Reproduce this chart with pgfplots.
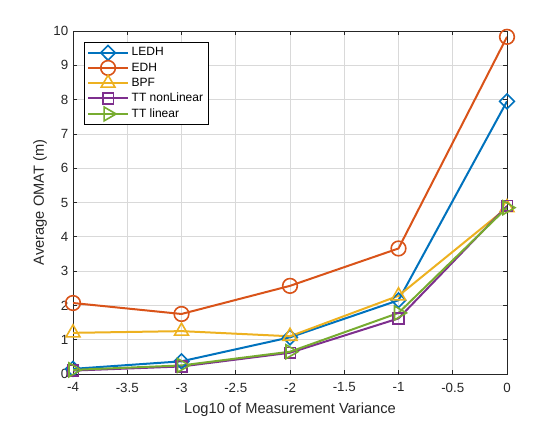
\documentclass[border=0pt]{standalone}
\usepackage{fontspec}
\setmainfont{Liberation Sans}
\usepackage{pgfplots}
\pgfplotsset{compat=1.18}
\definecolor{c1}{rgb}{0,0.447,0.741}
\definecolor{c2}{rgb}{0.85,0.325,0.098}
\definecolor{c3}{rgb}{0.929,0.694,0.125}
\definecolor{c4}{rgb}{0.494,0.184,0.556}
\definecolor{c5}{rgb}{0.466,0.674,0.188}
\definecolor{axgray}{rgb}{0.15,0.15,0.15}
\begin{document}
\begin{tikzpicture}
\path (0pt,0pt) rectangle (420pt,315pt);
\begin{axis}[
  at={(54.75pt,34.5pt)}, anchor=south west,
  scale only axis, width=325.5pt, height=257.25pt,
  xmin=-4, xmax=0, ymin=0, ymax=10,
  xtick={-4,-3.5,-3,-2.5,-2,-1.5,-1,-0.5,0},
  xticklabels={-4,-3.5,-3,-2.5,-2,-1.5,-1,-0.5,0},
  ytick={0,1,2,3,4,5,6,7,8,9,10},
  yticklabels={0,1,2,3,4,5,6,7,8,9,10},
  grid=major,
  grid style={black!15, line width=0.5pt},
  tick align=inside,
  major tick length=3.3pt,
  axis line style={axgray, line width=0.6pt},
  every tick/.style={axgray, line width=0.6pt},
  tick label style={font=\fontsize{10}{12}\selectfont, text=axgray},
  xticklabel style={yshift=-3pt},
  label style={font=\fontsize{11}{13}\selectfont, text=axgray},
  xlabel={Log10 of Measurement Variance},
  ylabel={Average OMAT (m)},
  xlabel style={yshift=-1pt},
  ylabel style={yshift=-2pt},
  legend cell align=left,
  legend style={at={(0,1)}, xshift=8.25pt, yshift=-8.25pt, anchor=north west,
    draw=black, line width=0.6pt, font=\fontsize{9}{11}\selectfont,
    row sep=-0.4pt, inner sep=2pt},
  legend image code/.code={
    \draw[mark repeat=2,mark phase=2] plot coordinates {(0pt,0pt)(15pt,0pt)(30pt,0pt)};
  },
  every axis plot/.append style={line width=1.5pt},
]
\addplot[c1, mark=diamond, mark size=5.5pt, mark options={xscale=1.33, solid, line width=1.2pt}] coordinates {(-4,0.15) (-3,0.37) (-2,1.07) (-1,2.15) (0,7.95)};
\addlegendentry{LEDH}
\addplot[c2, mark=o, mark size=5.5pt, mark options={line width=1.2pt}] coordinates {(-4,2.07) (-3,1.75) (-2,2.57) (-1,3.66) (0,9.83)};
\addlegendentry{EDH}
\addplot[c3, mark=triangle, mark size=6pt, mark options={line width=1.2pt}] coordinates {(-4,1.2) (-3,1.25) (-2,1.1) (-1,2.28) (0,4.85)};
\addlegendentry{BPF}
\addplot[c4, mark=square, mark size=4pt, mark options={line width=1.2pt}] coordinates {(-4,0.1) (-3,0.22) (-2,0.62) (-1,1.62) (0,4.9)};
\addlegendentry{TT nonLinear}
\addplot[c5, mark=triangle, mark size=6pt, mark options={rotate=-90, line width=1.2pt}] coordinates {(-4,0.12) (-3,0.25) (-2,0.65) (-1,1.78) (0,4.85)};
\addlegendentry{TT linear}
\end{axis}
\end{tikzpicture}
\end{document}
